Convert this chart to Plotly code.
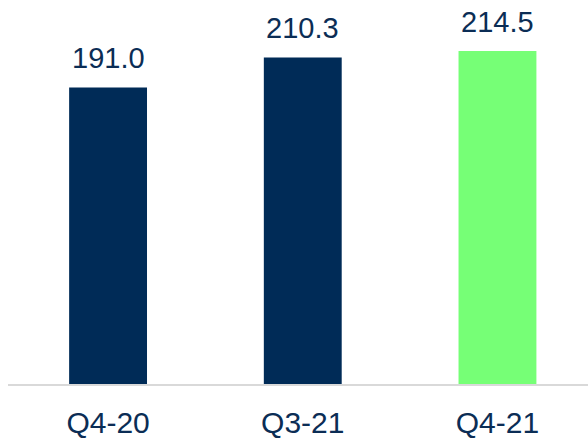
import plotly.graph_objects as go

quarters = ["Q4-20", "Q3-21", "Q4-21"]
values = [191.0, 210.3, 214.5]
colors = ["#002B57", "#002B57", "#76FF76"]

NAVY = "#0B2D55"
FONT = "Liberation Sans, Arial, sans-serif"

fig = go.Figure()
fig.add_trace(go.Bar(
    x=list(range(len(quarters))),
    y=values,
    marker=dict(color=colors, line=dict(width=0)),
    width=0.4,
    hoverinfo="skip",
))

for i, v in enumerate(values):
    fig.add_annotation(
        x=i, y=v, text=f"{v:.1f}", showarrow=False,
        yanchor="bottom", yshift=11,
        font=dict(family=FONT, size=29, color=NAVY),
    )

fig.update_layout(
    width=588, height=438,
    margin=dict(l=8, r=0, t=0, b=54),
    paper_bgcolor="white", plot_bgcolor="white",
    showlegend=False,
    font=dict(family=FONT, color=NAVY),
    xaxis=dict(
        range=[-0.514, 2.465],
        tickvals=list(range(len(quarters))),
        ticktext=quarters,
        tickfont=dict(family=FONT, size=30, color=NAVY),
        showline=True, linecolor="#D9D9D9", linewidth=2,
        showgrid=False, zeroline=False, ticks="",
        ticklabelstandoff=11,
        automargin=False,
    ),
    yaxis=dict(
        range=[0, 247.3],
        visible=False, showgrid=False, zeroline=False,
        automargin=False,
    ),
)

fig.write_html("out.html")
